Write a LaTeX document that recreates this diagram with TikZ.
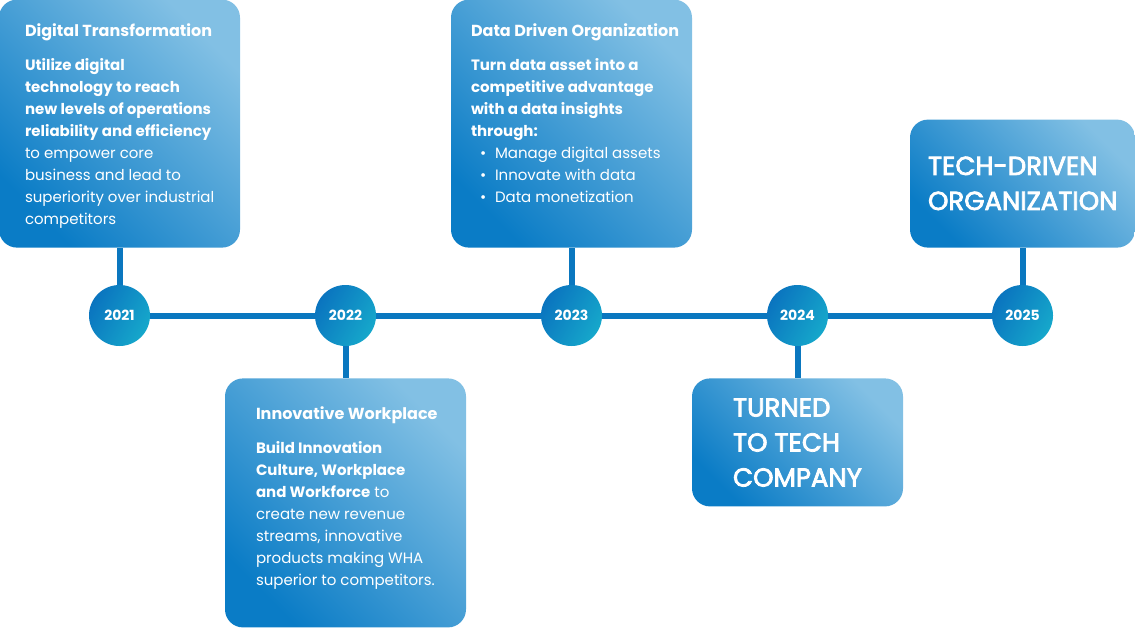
\documentclass[tikz,border=0pt]{standalone}
\usepackage{fontspec}
\setmainfont{Poppins}
\usetikzlibrary{positioning}
\definecolor{lineblue}{HTML}{0A77BF}
\definecolor{boxdark}{HTML}{0A7CC6}
\definecolor{boxmid}{HTML}{55A8DC}
\definecolor{boxlight}{HTML}{82C0E4}
\definecolor{dotdark}{HTML}{0A74BF}
\definecolor{dotlight}{HTML}{16A8CB}
\newfontfamily\bigfont[FakeBold=3]{Poppins}

\begin{document}
\begin{tikzpicture}[x=1pt,y=-1pt,node distance=37pt]
  \tikzstyle{card}=[rounded corners=18pt, inner sep=0pt,
    bottom color=boxdark, middle color=boxmid, top color=boxlight, shading angle=-45]
  \tikzstyle{year}=[circle, minimum size=61pt, inner sep=0pt, text=white,
    left color=dotdark, right color=dotlight, shading angle=60,
    font=\bfseries\fontsize{14}{15}\selectfont]
  \tikzstyle{tl}=[lineblue, line width=6pt]
  \tikzstyle{body}=[anchor=north west, align=left, inner sep=0pt, text=white,
    font=\fontsize{15}{22}\selectfont]
  \tikzstyle{big}=[anchor=north west, align=left, inner sep=0pt, text=white,
    font=\bigfont\fontsize{26}{35}\selectfont]

  \useasboundingbox (0,0) rectangle (1135,627);

  % years on the line
  \node[year] (y2021) at (119.5,315.5) {2021};
  \node[year] (y2022) at (345.5,315.5) {2022};
  \node[year] (y2023) at (571.5,315.5) {2023};
  \node[year] (y2024) at (797.5,315.5) {2024};
  \node[year] (y2025) at (1022.5,315.5) {2025};

  % cards
  \node[card, minimum width=241pt, minimum height=248pt, above=37pt of y2021] (b2021) {};
  \node[card, minimum width=241pt, minimum height=249pt, below=32pt of y2022] (b2022) {};
  \node[card, minimum width=241pt, minimum height=248pt, above=37pt of y2023] (b2023) {};
  \node[card, minimum width=211pt, minimum height=128pt, below=32pt of y2024] (b2024) {};
  \node[card, minimum width=225pt, minimum height=128pt, above=37pt of y2025] (b2025) {};

  \path[tl]
  (y2021) edge (y2022)
  (y2022) edge (y2023)
  (y2023) edge (y2024)
  (y2024) edge (y2025)
  (y2021) edge (b2021)
  (y2022) edge (b2022)
  (y2023) edge (b2023)
  (y2024) edge (b2024)
  (y2025) edge (b2025)
  ;

  % card texts
  \node[body] (t2021) at ([shift={(26pt,-24pt)}]b2021.north west) {%
    {\bfseries\fontsize{16}{22}\selectfont Digital Transformation}\\[12pt]
    {\bfseries Utilize digital}\\
    {\bfseries technology to reach}\\
    {\bfseries new levels of operations}\\
    {\bfseries reliability and efficiency}\\
    to empower core\\
    business and lead to\\
    superiority over industrial\\
    competitors};
  \node[body] (t2022) at ([shift={(31pt,-28pt)}]b2022.north west) {%
    {\bfseries\fontsize{16}{22}\selectfont Innovative Workplace}\\[12pt]
    {\bfseries Build Innovation}\\
    {\bfseries Culture, Workplace}\\
    {\bfseries and Workforce} to\\
    create new revenue\\
    streams, innovative\\
    products making WHA\\
    superior to competitors.};
  \node[body] (t2023) at ([shift={(20pt,-24pt)}]b2023.north west) {%
    {\bfseries\fontsize{16}{22}\selectfont Data Driven Organization}\\[12pt]
    {\bfseries Turn data asset into a}\\
    {\bfseries competitive advantage}\\
    {\bfseries with a data insights}\\
    {\bfseries through:}\\
    \hspace*{9pt}\makebox[15pt][l]{•}Manage digital assets\\
    \hspace*{9pt}\makebox[15pt][l]{•}Innovate with data\\
    \hspace*{9pt}\makebox[15pt][l]{•}Data monetization};
  \node[big] (t2024) at ([shift={(41pt,-20pt)}]b2024.north west) {%
    TURNED\\ TO TECH\\ COMPANY};
  \node[big] (t2025) at ([shift={(18pt,-37pt)}]b2025.north west) {%
    TECH-DRIVEN\\ ORGANIZATION};
\end{tikzpicture}
\end{document}
